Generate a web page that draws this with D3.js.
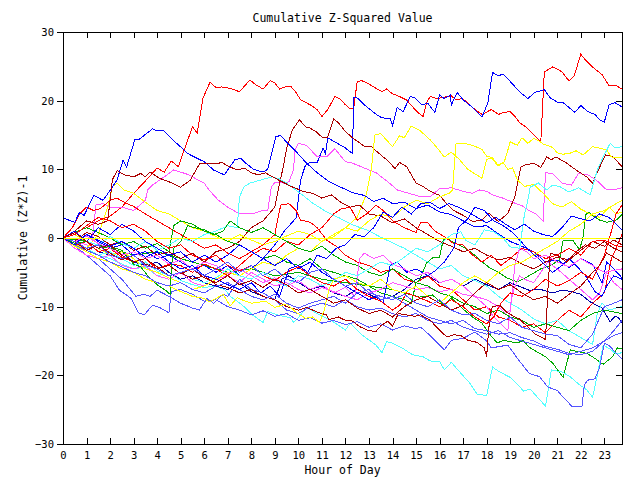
<!DOCTYPE html>
<html>
<head>
<meta charset="utf-8">
<script src="https://cdn.jsdelivr.net/npm/d3@7"></script>
<style>
  body { margin: 0; background: #fff; }
  text { font-family: "DejaVu Sans Mono", monospace; }
</style>
</head>
<body>
<svg id="chart" width="640" height="480"></svg>
<script>
// each series: [hour, cumulative (Z*Z)-1]
const red1 = [[0,0],[0.5,0.8],[1,1.5],[1.5,2.5],[2,3.2],[2.5,4.5],[3,6.5],[3.5,8.3],[4,10.2],[4.3,9.6],[4.6,11.2],[4.9,10.4],[5.2,13.3],[5.5,16.2],[5.7,15.3],[5.95,20.4],[6.25,22.7],[6.5,21.9],[6.75,22],[7.1,21.8],[7.5,21.3],[7.94,23],[8.2,22.3],[8.5,21.7],[8.8,22.9],[9.0,22.6],[9.2,21.7],[9.5,22.1],[9.7,22.0],[9.9,21.2],[10.1,20.1],[10.5,19.4],[10.8,18.7],[11.0,17.7],[11.25,18.7],[11.55,20.6],[11.75,20.3],[12.0,19.4],[12.2,18.8],[12.35,18.9],[12.5,22.8],[12.7,22.9],[12.9,22.6],[13.2,22.0],[13.55,21.3],[13.75,21.7],[14.0,21.0],[14.3,20.6],[14.6,20.1],[14.8,19.3],[15.1,18.2],[15.3,17.7],[15.45,19.7],[15.6,20.6],[15.9,20.3],[16.2,20.5],[16.5,20.7],[16.7,20.1],[16.95,20.3],[17.15,19.9],[17.4,19.0],[17.8,18.0],[18.2,18.7],[18.5,18.0],[18.75,18.3],[19.0,18.4],[19.2,17.7],[19.4,16.8],[19.7,16.1],[20.0,15.0],[20.3,14.0],[20.45,24.2],[20.8,24.9],[21.0,24.6],[21.2,24.2],[21.4,23.3],[21.5,22.9],[21.7,23.5],[21.8,24.5],[22.0,26.8],[22.1,26.3],[22.5,24.9],[22.9,23.8],[23.2,22.2],[23.5,22.2],[23.75,21.7]];
const blue1 = [[0,0],[0.5,-0.8],[1,0.5],[1.5,-0.5],[2,-1.5],[2.5,-1],[3,-2.5],[3.5,-2],[4,-3],[4.5,-2.5],[5,-3.5],[5.5,-4.5],[6,-4],[6.5,-5],[7,-4],[7.5,-5.5],[8,-4.5],[8.5,-3],[9,-1],[9.4,1],[9.9,2.9],[10.1,8.5],[10.3,10.6],[10.5,11],[10.8,11],[11.05,13.1],[11.15,12.3],[11.25,14.6],[11.65,13.8],[12,13.1],[12.3,12.3],[12.35,20.5],[12.5,20.4],[12.9,19.1],[13.35,17.9],[13.55,17.5],[13.9,17.4],[14.0,16.4],[14.2,19.0],[14.45,18.4],[14.75,20.6],[14.95,20.4],[15.25,19.4],[15.5,19.6],[15.8,18.3],[16.0,20.8],[16.2,20.3],[16.45,20.8],[16.5,19.4],[16.75,21.2],[17.0,20.1],[17.3,19.3],[17.5,18.7],[17.8,17.6],[18.05,19.7],[18.25,24.1],[18.5,23.6],[18.7,23.9],[19.0,22.8],[19.4,21.3],[19.75,20.3],[20.05,21.2],[20.45,21.6],[20.7,20.4],[21.0,19.8],[21.25,19.7],[21.75,18.3],[22.0,19.3],[22.3,18.4],[22.6,18.0],[22.8,17.2],[23.0,16.9],[23.2,19.4],[23.45,19.7],[23.75,19.1]];
const blue2 = [[0,2.9],[0.5,2.3],[0.7,3.7],[0.9,3.3],[1.3,6.2],[1.7,5.5],[2.1,7.4],[2.3,8.5],[2.55,11.3],[2.7,10.3],[3.05,14.3],[3.25,14.4],[3.8,15.9],[4.0,15.6],[4.25,15.7],[4.6,14.5],[5.05,13.1],[5.3,12.3],[5.7,11.6],[6.0,11.1],[6.4,9.9],[6.85,9.2],[7.0,9.9],[7.3,11.4],[7.55,11.6],[7.8,10.8],[8.1,10.0],[8.5,9.6],[8.7,10.0],[9.05,14.8],[9.25,14.9],[9.6,13.6],[9.95,12.4],[10.35,10.9],[10.8,9.5],[11.3,8.2],[11.8,7.4],[12.3,6.6],[12.8,6.2],[13.2,5.3],[13.6,5.8],[14,5],[14.5,5.2],[15,4.3],[15.5,4.8],[16,3.8],[16.5,3.4],[17,2.5],[17.5,1.6],[18,1.8],[18.5,0.6],[19,-0.5],[19.5,-1.2],[20,-2],[20.5,-3.5],[21,-3.2],[21.5,-4.3],[22,-3],[22.5,-3.8],[22.9,-6.6],[23.1,-3.5],[23.4,-4.5],[23.75,-5.8]];
const blue3 = [[0,0],[0.5,1],[1,-0.5],[1.5,1.5],[2,0.5],[2.5,2],[3,1],[3.5,-0.5],[4,-1.5],[4.5,-2.5],[5,-2],[5.5,-3.5],[6,-2.5],[6.5,-3.5],[7,-2.5],[7.5,-1],[8,-2],[8.5,-3],[9,-4],[9.5,-3],[10,-4.5],[10.5,-3.5],[11,-5],[11.5,-6],[12,-7],[12.5,-8],[13,-9],[13.3,-8.5],[13.6,-9.5],[13.9,-4],[14.2,-3.5],[14.6,-5],[15,-4.5],[15.5,-5.5],[15.8,-4.8],[16.2,-3.5],[16.6,-1.5],[16.8,1.5],[17.2,2.8],[17.5,4.5],[17.9,4],[18.3,2.5],[18.7,1.8],[19.1,0.8],[19.4,-0.3],[19.8,-1.8],[20.2,-3],[20.5,-4],[20.8,-5],[21.2,-4],[21.5,-3],[21.8,-4],[22.2,-5.5],[22.6,-7.8],[22.9,-8.5],[23.1,-7],[23.4,-5.5],[23.75,-6]];
const blue4 = [[0,0],[0.5,-1],[1,0.5],[1.5,-0.3],[2,-1.2],[2.5,-0.5],[3,-1.5],[3.5,-2.8],[4,-2],[4.5,-3.5],[5,-4.5],[5.5,-4],[6,-5.5],[6.5,-6],[7,-6.8],[7.5,-7.5],[8,-6.5],[8.4,-8],[8.8,-7],[9.2,-8.5],[9.6,-4.5],[10,-4],[10.4,-5],[10.8,-2.5],[11.2,-3],[11.6,-1.5],[12,-1],[12.4,0.5],[12.8,0.2],[13.2,1.5],[13.6,3.8],[14,3],[14.4,4.5],[14.8,3.5],[15.2,5],[15.6,5.2],[16,4.3],[16.4,5],[16.8,4.5],[17.2,3.8],[17.6,3],[18,2.2],[18.4,3],[18.8,2],[19.2,1.2],[19.6,2],[20,1],[20.4,0.5],[20.8,0.2],[21.2,1.5],[21.6,3.2],[22,2.8],[22.4,2.5],[22.8,3.5],[23.2,3],[23.75,1.2]];
const navy1 = [[0,0],[0.5,-1],[1,-0.5],[1.5,-2],[2,-2.5],[2.5,-2],[3,-3.5],[3.5,-4],[4,-3.5],[4.5,-5],[5,-6],[5.5,-5.5],[6,-6.5],[6.5,-7],[7,-7.5],[7.5,-6.5],[8,-7.8],[8.5,-8.5],[9,-9],[9.3,-6],[9.6,-5.5],[10,-6.5],[10.5,-7.5],[11,-7],[11.5,-8],[12,-8.5],[12.5,-7.5],[13,-8.2],[13.5,-9],[14,-8.5],[14.5,-7.5],[15,-6],[15.5,-5.5],[16,-6.5],[16.5,-6],[17,-7],[17.5,-6],[18,-6.8],[18.5,-7.5],[19,-6.5],[19.5,-7.2],[19.8,-7.6],[20.3,-7.5],[20.8,-8],[21.2,-7.6],[21.6,-7.8],[22,-8.2],[22.4,-9.3],[22.9,-10.2],[23.25,-12.2],[23.45,-11.4],[23.6,-11.6],[23.75,-12.4]];
const darkred1 = [[0,0],[0.5,-0.5],[1,0.8],[1.5,0.2],[2,-1],[2.5,-0.5],[3,-1.8],[3.5,-1.2],[4,-2.5],[4.5,-2],[5,-3],[5.5,-2.2],[6,-3.5],[6.5,-2],[7,-1.5],[7.5,-0.5],[8,1.5],[8.5,2.5],[9,4.5],[9.2,8],[9.35,10.2],[9.5,13],[9.75,15.8],[10.05,17.2],[10.3,16.2],[10.5,16],[10.75,15.5],[11,14.7],[11.25,14.7],[11.5,17.3],[11.7,16.8],[12,15.5],[12.3,14.6],[12.7,13.6],[12.85,13.3],[13.1,13.3],[13.4,12.4],[13.85,11.1],[14.1,10.1],[14.3,11.0],[14.6,10.4],[15,8],[15.3,7.5],[15.6,6.8],[16,6.2],[16.3,5],[16.6,4],[17,3.3],[17.4,2.4],[17.8,2.6],[18.1,3.6],[18.5,2.4],[18.9,3.6],[19.2,6.0],[19.45,10.3],[19.6,10.6],[20.0,10.9],[20.3,10.3],[20.55,11.8],[20.75,11.4],[20.95,11.8],[21.4,10.9],[21.8,9.9],[22.25,8.9],[22.5,8.0],[22.8,10.3],[23.05,12.1],[23.35,11.9],[23.75,10.4]];
const darkred2 = [[0,0],[0.5,1],[1,2.5],[1.5,2],[1.9,2.5],[2.1,8.5],[2.3,9.8],[2.6,9.2],[3.0,8.9],[3.3,9.4],[3.5,8.9],[3.7,9.6],[4.1,8.7],[4.5,8.2],[5.0,7.4],[5.4,8.4],[5.8,10.8],[6.2,10.9],[6.5,10.8],[6.75,11],[7.0,10.5],[7.4,9.9],[7.7,10.2],[8,9.5],[8.3,9.2],[8.6,9.5],[8.9,8.9],[9.3,8.2],[9.7,7.5],[10.2,6.8],[10.6,6.5],[11,5.8],[11.4,6.3],[11.8,5.2],[12.2,4.5],[12.6,4.8],[13,3.5],[13.5,3.2],[14,2.2],[14.5,2.8],[15,1.5],[15.5,0.5],[16,-0.5],[16.5,-1.2],[17,-2],[17.5,-1.5],[18,-2.5],[18.5,-3.2],[19,-2.8],[19.5,-3.8],[20,-4.5],[20.5,-3.5],[21,-2.8],[21.5,-3.2],[22,-1.8],[22.5,-0.5],[23,-1.2],[23.4,-0.3],[23.75,-1]];
const darkred3 = [[0,0],[0.5,0.8],[1,-0.5],[1.5,-1.5],[2,-1],[2.5,-2.5],[3,-3.5],[3.5,-3],[4,-4.2],[4.5,-5.5],[5,-5],[5.5,-6],[6,-5.5],[6.5,-6.8],[7,-7.2],[7.5,-8],[8,-7.5],[8.5,-8.5],[9,-9],[9.5,-10],[10,-10.5],[10.35,-10.1],[10.8,-10.8],[11.2,-11.2],[11.3,-11.9],[11.7,-11.5],[12,-12],[12.3,-12.1],[12.6,-12.9],[13,-13.5],[13.3,-13.6],[13.5,-12.8],[13.8,-12.1],[14.0,-12.8],[14.25,-11.0],[14.6,-11.2],[14.95,-11.4],[15.2,-11.2],[15.6,-12.0],[16,-13.4],[16.3,-14.4],[16.6,-14.1],[16.9,-14.2],[17.2,-14.9],[17.6,-15.2],[17.9,-16.0],[18.0,-17.3],[18.05,-14.8],[18.15,-11.0],[18.25,-10.0],[18.55,-9.8],[18.85,-10.8],[19.2,-11.5],[19.4,-11.8],[19.7,-12.8],[20.05,-14.0],[20.35,-14.5],[20.5,-14.8],[20.6,-7.6],[20.7,-2.2],[21,-2.5],[21.4,-3.5],[21.8,-2],[22.2,-1],[22.6,-1.5],[23,-0.5],[23.4,-1.5],[23.75,-2]];
const darkred4 = [[0,0],[0.5,-0.5],[1,-1.8],[1.5,-1],[2,-2.2],[2.5,-3.2],[3,-2.5],[3.5,-3.8],[4,-4.5],[4.5,-4],[5,-5.2],[5.5,-4.5],[6,-5.8],[6.5,-6.5],[7,-5.5],[7.5,-6.8],[8,-6.2],[8.5,-7.2],[9,-6],[9.5,-6.8],[10,-8],[10.5,-7.5],[11,-8.5],[11.5,-9.5],[12,-9],[12.5,-10.2],[13,-11],[13.5,-10.5],[14,-11.5],[14.5,-10],[15,-9],[15.5,-8.5],[16,-9.5],[16.5,-10.5],[17,-9.8],[17.5,-8],[18,-6.5],[18.5,-7.5],[19,-6.8],[19.5,-8],[20,-9],[20.5,-8.5],[21,-9.5],[21.5,-8.2],[22,-7],[22.5,-5],[22.8,-4],[23.1,-2.2],[23.4,-2.8],[23.75,-3.5]];
const red2 = [[0,0],[0.4,1.5],[0.7,3.5],[1,4.5],[1.3,4],[1.6,4.3],[2,5.5],[2.3,5.8],[2.6,5.2],[3,4.6],[3.5,3.5],[4,2.5],[4.5,1.5],[5,0.5],[5.5,-0.5],[6,-1.5],[6.5,-1],[7,-2.2],[7.5,-3],[8,-2],[8.5,-1],[9,0.5],[9.1,2.3],[9.25,4.8],[9.6,5.0],[9.9,4.0],[10.1,2.6],[10.5,2.3],[10.8,1.5],[11.2,-0.3],[11.6,-1.2],[12,-2.5],[12.5,-3.5],[13,-4],[13.5,-5],[14,-4.5],[14.5,-6],[15,-6.5],[15.5,-5.5],[16,-7],[16.5,-7.5],[17,-9],[17.5,-10.5],[18,-10],[18.5,-11.5],[19,-12],[19.5,-13],[20,-12.5],[20.5,-13.8],[21,-12],[21.5,-10.5],[22,-11.5],[22.5,-9.5],[23,-8],[23.3,-3],[23.5,-1.5],[23.75,0.5]];
const red3 = [[0,0],[0.5,-1],[1,-0.5],[1.5,-2],[2,-1.5],[2.5,-2.8],[3,-3.5],[3.5,-3],[4,-4.5],[4.5,-3.8],[5,-4],[5.5,-5],[6,-3.8],[6.5,-4.5],[7,-5.5],[7.5,-4],[8,-2.5],[8.5,-1.5],[9,-2],[9.5,-0.5],[10,-1],[10.5,0.5],[11,1.5],[11.5,3.5],[11.8,4.2],[12.2,4.5],[12.5,2.6],[12.9,3.5],[13.3,4.8],[13.6,4],[14,2.5],[14.5,1.5],[15,0.8],[15.2,2.3],[15.5,2.2],[15.8,1],[16.2,0.2],[16.6,-0.8],[17,-1],[17.4,-2.5],[17.8,-3.5],[18.2,-2.5],[18.6,-4],[19,-3],[19.5,-1.5],[20,-2],[20.5,-3],[21,-2.5],[21.5,-1.5],[22,-2.5],[22.5,-0.5],[23,-0.3],[23.4,-1],[23.75,-1.3]];
const red4 = [[0,0],[0.5,0.5],[1,1.8],[1.5,3],[2,2.5],[2.5,1.5],[3,2],[3.5,1],[4,-0.5],[4.5,-1.5],[5,-1],[5.5,-2.5],[6,-3.2],[6.5,-2.5],[7,-4],[7.5,-4.8],[8,-4],[8.5,-5.5],[9,-6.2],[9.5,-5],[10,-4.2],[10.5,-5.5],[11,-6.5],[11.5,-7],[12,-6],[12.5,-7.5],[13,-8.5],[13.5,-9.2],[14,-10.5],[14.3,-9.8],[14.6,-8],[15,-8.5],[15.5,-9.2],[16,-10],[16.5,-9],[17,-10],[17.5,-11.5],[18,-12.5],[18.3,-11.5],[18.6,-9.5],[19,-8],[19.5,-8.5],[20,-7.5],[20.5,-6],[21,-7],[21.5,-6.2],[22,-5],[22.5,-6],[23,-2.5],[23.3,1],[23.5,3.5],[23.75,4.8]];
const magenta1 = [[0,0],[0.5,-0.5],[1,-1],[1.2,-1.6],[1.3,1.6],[1.4,4.8],[1.7,5],[2,4.5],[2.5,4.5],[3,4],[3.5,5.5],[3.6,7],[3.8,7.7],[4.3,8.9],[4.7,9.9],[5,9.6],[5.35,9.2],[5.7,8.5],[6.0,8.0],[6.2,7.0],[6.6,5.5],[7,4.5],[7.5,3.5],[8,3.5],[8.5,4],[8.7,4.0],[8.85,7.4],[9.0,8.1],[9.4,8.0],[9.6,8.2],[9.8,10.0],[9.85,12.8],[10.0,13.8],[10.35,13.5],[10.8,11.8],[11.2,11.8],[11.55,13.0],[12.0,11.1],[12.3,10.9],[12.8,10.2],[13.3,9.5],[13.8,8.2],[14.2,7.0],[14.6,6.6],[15.2,6.0],[15.6,6.0],[16,7.2],[16.5,7.3],[17,6.8],[17.4,6.5],[17.7,7.0],[18.0,6.8],[18.3,6.2],[18.7,5.8],[19.1,5.2],[19.5,4.7],[19.8,4.0],[20.1,3.5],[20.4,2.5],[20.5,9.5],[20.8,9.4],[21.2,8.0],[21.6,7.7],[21.9,9.4],[22.3,9.2],[22.7,8.3],[23.1,7.0],[23.4,7.0],[23.75,7.3]];
const magenta2 = [[0,0],[0.5,-1.5],[1,-2.5],[1.5,-3],[2,-2.5],[2.5,-4],[3,-4.5],[3.5,-4],[4,-5.5],[4.5,-6],[5,-5],[5.5,-6.5],[6,-7],[6.5,-6],[7,-5.5],[7.5,-6.5],[8,-5],[8.5,-6],[9,-7],[9.5,-6.5],[10,-7.5],[10.5,-8],[11,-7.2],[11.5,-7.8],[12,-8.5],[12.5,-9],[13,-8],[13.5,-7.5],[14,-6.5],[14.5,-7],[15,-7.5],[15.5,-7.2],[16,-7.8],[16.5,-7.5],[17,-8.2],[17.5,-8.5],[18,-10],[18.3,-11.5],[18.6,-12.5],[18.9,-13.5],[19.05,-9],[19.15,-7.5],[19.4,-5.5],[19.6,-6],[20,-6.5],[20.3,-5],[20.6,-3.5],[21,-4.5],[21.5,-6],[22,-7.5],[22.5,-9],[22.8,-8],[23.1,-5],[23.4,-6.5],[23.75,-7.5]];
const magenta3 = [[0,0],[0.5,-0.5],[1,0.3],[1.5,-0.8],[2,-1.5],[2.5,-2.5],[3,-2],[3.5,-3],[4,-2.5],[4.5,-3.8],[5,-3.2],[5.5,-4.5],[6,-3.5],[6.5,-4],[7,-5.2],[7.5,-4.5],[8,-5.5],[8.5,-6.5],[9,-5.8],[9.5,-7],[10,-6.2],[10.5,-7.5],[11,-6.8],[11.5,-8],[12,-7.2],[12.4,-8.5],[12.6,-3],[12.8,-2.2],[13.2,-3],[13.6,-2.5],[14,-3.8],[14.5,-4.5],[15,-5.5],[15.5,-5],[16,-6.5],[16.5,-6],[17,-7],[17.5,-8.5],[18,-9],[18.5,-10],[18.8,-11],[19.0,-10.5],[19.2,-4],[19.4,-1.5],[19.7,-2],[20,-3],[20.5,-2.5],[21,-3.5],[21.5,-4.2],[22,-3],[22.5,-4],[23,-5],[23.75,-4.5]];
const yellow1 = [[0,0],[0.5,-1],[1,-1.5],[1.5,0.5],[1.9,4.5],[2.1,7.5],[2.3,8],[2.6,7],[3,6.5],[3.5,5.2],[4,4],[4.5,3.5],[5,2.5],[5.5,1.5],[6,1],[6.5,0.2],[7,-0.5],[7.5,0.5],[8,-0.3],[8.5,-1],[9,-0.5],[9.5,0.3],[10,1],[10.5,0.5],[11,-0.5],[11.5,0.2],[12,1.5],[12.5,3],[12.9,6.5],[13.1,10],[13.25,15],[13.5,15.2],[14,13.3],[14.3,14.9],[14.5,14.6],[14.8,16.3],[15.15,15.7],[15.6,14.3],[15.9,13.1],[16.2,11.8],[16.5,12.5],[16.85,11.4],[17.2,10],[17.8,8.7],[18.0,11.4],[18.2,11.7],[18.45,10.6],[18.75,11.1],[18.9,12.8],[19.0,14],[19.3,13.5],[19.5,14.6],[19.75,13.8],[20,14.5],[20.2,14.2],[20.4,13.7],[20.8,13.2],[21.0,12.4],[21.25,12.2],[21.6,12.4],[21.8,12.7],[22.1,12.1],[22.5,13.3],[22.9,13.0],[23.1,12.8],[23.3,11.8],[23.75,11.7]];
const yellow2 = [[0,0],[0.5,0.5],[1,-0.5],[1.5,-1.5],[2,-2.5],[2.5,-2],[3,-3],[3.5,-4.5],[4,-5],[4.5,-5.8],[5,-6.5],[5.5,-7.5],[6,-7],[6.5,-6],[7,-5],[7.5,-5.5],[8,-4.5],[8.5,-3.5],[9,-4],[9.5,-2.5],[10,-1.5],[10.5,-2],[11,-0.5],[11.5,0.5],[12,1.5],[12.5,1],[13,2.5],[13.5,3.5],[14,3],[14.5,4.5],[15,5.5],[15.5,5],[16,6],[16.4,6.5],[16.55,7],[16.7,13.8],[17,13.8],[17.4,13.5],[17.8,12.9],[18.0,11.9],[18.25,11.7],[18.5,10.5],[18.7,11],[18.9,10],[19.1,10.2],[19.3,8.5],[19.6,7.5],[20,7.8],[20.4,6.5],[20.8,5],[21.2,4.5],[21.6,5.3],[22,4.2],[22.4,3.5],[22.8,3],[23.2,4.5],[23.5,3.5],[23.75,3.8]];
const yellow3 = [[0,0],[0.5,-1.2],[1,-2],[1.5,-3],[2,-3.5],[2.5,-4.5],[3,-5],[3.5,-6],[4,-6.5],[4.5,-7],[5,-7.8],[5.5,-8.5],[6,-8.8],[6.2,-9.3],[6.5,-8.8],[6.8,-8.2],[7.1,-9.9],[7.4,-8.7],[7.6,-9],[8.0,-9.5],[8.6,-9.2],[9.0,-10.1],[9.5,-9.6],[9.9,-10.8],[10.3,-11.7],[10.6,-11.5],[10.9,-12.3],[11.1,-10.5],[11.3,-7.5],[11.5,-6],[12,-5.5],[12.5,-6.5],[13,-7],[13.5,-6],[14,-7.5],[14.5,-8],[15,-7],[15.5,-8.5],[16,-9.5],[16.5,-8],[17,-6.5],[17.5,-5.5],[18,-6.5],[18.5,-5],[19,-4],[19.5,-3.5],[20,-2.5],[20.5,-1.5],[21,-0.5],[21.5,1],[22,2],[22.5,3.5],[23,4],[23.75,5.5]];
const yellowFlat = [[0,0],[23.75,0]];
const cyan1 = [[0,0],[0.5,-0.8],[1,-1.5],[1.5,-2.5],[2,-3],[2.5,-3.8],[3,-4.5],[3.5,-4.2],[4,-5.5],[4.5,-5],[5,-6.2],[5.5,-6.8],[6,-7.2],[6.5,-7],[6.9,-7.6],[7.1,-8.5],[7.6,-9.7],[8.05,-11.2],[8.5,-12.3],[8.7,-10.7],[9.1,-11.2],[9.65,-11.6],[9.8,-12.3],[10.1,-11.2],[10.35,-10.1],[10.9,-11.2],[11.35,-11.9],[12.0,-13.4],[12.2,-12.4],[12.4,-13.1],[12.7,-14.1],[13.3,-15.6],[13.55,-16.7],[13.75,-15.1],[14.0,-15.3],[14.4,-16.0],[14.85,-17.0],[15.3,-17.3],[15.6,-17.9],[16.0,-18.0],[16.2,-19.2],[16.5,-18.1],[16.8,-19.3],[17.3,-21.2],[17.6,-22.8],[18.0,-22.9],[18.25,-18.8],[18.55,-19.5],[19.0,-20.3],[19.4,-21.6],[19.55,-22.3],[19.85,-22.0],[20.5,-24.5],[20.55,-23.5],[20.75,-19.2],[21.2,-19.5],[21.55,-20.2],[21.95,-21.4],[22.25,-22.1],[22.5,-23.2],[22.7,-20],[22.95,-15.6],[23.25,-16.2],[23.5,-16.9],[23.75,-16.7]];
const cyan2 = [[0,0],[0.5,0.5],[1,-0.5],[1.5,-1],[2,0.2],[2.5,-0.8],[3,-1.5],[3.5,-0.5],[4,-1.8],[4.5,-1],[5,0],[5.5,-0.5],[6,0.5],[6.5,1],[7,1.8],[7.4,1.5],[7.5,6],[7.7,7.5],[7.95,8.0],[8.45,8.5],[8.9,8.9],[9.2,8.6],[9.5,8.0],[10.05,6.6],[10.6,5.1],[11.2,3.8],[11.75,2.9],[12.3,1.9],[12.9,1.2],[13.45,0.2],[13.75,-0.3],[14.5,-1.5],[15,-2.5],[15.5,-3.5],[16,-4.5],[16.5,-4],[17,-5.5],[17.5,-6.2],[18,-7],[18.5,-8.5],[19,-9.5],[19.5,-10.5],[20,-11.8],[20.5,-12.5],[21,-12],[21.5,-13.5],[22,-14.5],[22.5,-15.5],[22.7,-11],[22.9,-9.5],[23.2,-10.5],[23.5,-10.2],[23.75,-10]];
const cyan3 = [[0,0],[0.5,-1],[1,-1.8],[1.5,-2.5],[2,-2],[2.5,-3],[3,-4],[3.5,-3.5],[4,-4.8],[4.5,-5.5],[5,-5],[5.5,-6],[6,-6.5],[6.5,-5.8],[7,-4.5],[7.5,-5.5],[8,-6],[8.5,-5],[9,-6.2],[9.5,-7],[10,-5.5],[10.5,-6],[11,-7],[11.5,-6.2],[12,-5],[12.5,-5.5],[13,-4.5],[13.5,-3.5],[14,-4],[14.5,-2.8],[15,-1.5],[15.5,-2],[16,-1],[16.5,0.5],[16.9,0.9],[17.1,-0.3],[17.5,-1],[17.9,1.2],[18.3,0.9],[18.7,0],[19.0,-1.3],[19.4,-1.5],[19.6,3.3],[19.75,5.5],[19.85,7.4],[20.2,8.0],[20.55,7.0],[20.8,7.7],[21.1,7.5],[21.5,6.7],[21.9,7.3],[22.4,6.3],[22.7,9.9],[22.95,11.8],[23.25,13.8],[23.45,13.1],[23.75,13.3]];
const lightblue1 = [[0,0],[0.5,-1.2],[1,-2.5],[1.5,-4],[2,-5.5],[2.4,-7.6],[2.9,-8.8],[3.2,-10.9],[3.45,-11.2],[3.8,-9.8],[4.1,-10.1],[4.5,-10.9],[4.6,-7.8],[5,-7.5],[5.5,-8.2],[6,-9.2],[6.5,-9],[7,-10],[7.5,-10.5],[8,-11.2],[8.5,-10.6],[9,-11.4],[9.5,-11],[10,-12],[10.5,-11.6],[11,-12.4],[11.5,-12],[12,-12.6],[12.5,-12.2],[13,-13],[13.5,-12.5],[14,-13.4],[14.5,-12.8],[15,-13.2],[15.2,-13],[15.6,-14.2],[16.2,-16.3],[16.5,-14.9],[17,-14.6],[17.5,-13.7],[18,-15],[18.2,-16],[18.9,-15.6],[19.3,-17.5],[19.8,-19.7],[20.25,-20.2],[20.6,-21.7],[21,-22.2],[21.25,-23.2],[21.45,-23.9],[21.65,-24.6],[22.05,-24.5],[22.15,-21.4],[22.3,-20.7],[22.6,-20.5],[22.8,-18.8],[23.0,-15.3],[23.25,-15.8],[23.5,-16.8],[23.75,-17.6]];
const lightblue2 = [[0,0],[0.5,-1],[1,-2],[1.5,-3],[2,-4.5],[2.5,-6],[3.1,-8.5],[3.45,-8.2],[3.7,-8.5],[4.0,-7.6],[4.5,-8.5],[5,-9.5],[5.5,-10.2],[5.8,-10.5],[6.1,-8.8],[6.4,-9.5],[6.8,-8.2],[7,-8.5],[7.5,-6],[8,-7.5],[8.5,-8],[9,-9],[9.5,-10.5],[10,-11],[10.5,-10],[11,-9.5],[11.5,-10],[12,-9],[12.5,-10],[13,-10.5],[13.5,-10.2],[14,-11],[14.5,-11.5],[15,-11],[15.5,-12],[16,-12.5],[16.5,-12],[17,-13],[17.5,-13.5],[18,-14],[18.5,-13.5],[19,-14.5],[19.5,-15],[20,-15.5],[20.5,-16],[21,-16.5],[21.5,-17],[22,-16.5],[22.5,-16],[23,-15],[23.4,-14.2],[23.75,-13.8]];
const lightblue3 = [[0,0],[0.5,-1],[1,-1.8],[1.5,-2.5],[2,-3.5],[2.5,-4.2],[3,-5],[3.5,-5.5],[4,-6.5],[4.5,-7],[5,-6.5],[5.5,-7.5],[6,-8],[6.5,-7],[7,-6.5],[7.5,-7.5],[8,-8.5],[8.5,-9],[9,-8.2],[9.5,-9.5],[10,-10.2],[10.5,-9.5],[11,-9],[11.5,-8.5],[12,-9.5],[12.5,-8],[13,-7.5],[13.5,-9],[14,-8.5],[14.5,-9.5],[15,-10.5],[15.5,-11.5],[16,-12],[16.5,-12.5],[17,-12],[17.5,-13.2],[18,-13.5],[18.5,-14],[19,-13.8],[19.5,-14.5],[20,-15],[20.5,-15.8],[21,-16.2],[21.5,-16.8],[22,-17],[22.5,-16.5],[23,-15],[23.4,-13.5],[23.75,-12]];
const lightblue4 = [[0,0],[0.5,-0.5],[1,-1.5],[1.5,-1],[2,-2.5],[2.5,-3],[3,-2.5],[3.5,-4],[4,-4.5],[4.5,-5.5],[5,-5],[5.5,-4.5],[6,-5.5],[6.5,-4.5],[7,-3.5],[7.5,-5],[8,-4],[8.5,-5.5],[9,-4.5],[9.5,-6],[10,-6.5],[10.5,-5],[11,-4.5],[11.5,-6],[12,-7],[12.5,-6.5],[13,-8],[13.5,-8.5],[14,-9],[14.5,-8.2],[15,-9.5],[15.5,-10],[16,-9],[16.5,-10.5],[17,-11.2],[17.5,-11],[18,-12],[18.5,-12.5],[19,-11.5],[19.5,-13],[20,-13.5],[20.5,-14],[21,-14.2],[21.5,-15.5],[22,-16],[22.5,-14],[23,-10],[23.4,-9.5],[23.75,-9]];
const green1 = [[0,0],[1,-0.5],[2,-1.5],[3,-2.5],[4,-2],[5,-3],[6,-4],[7,-5],[8,-4.5],[9,-5.5],[10,-5],[11,-6],[12,-6.5],[13,-7],[14,-7.5],[14.5,-8],[15.15,-8.6],[15.7,-8.3],[16.2,-9.8],[16.5,-8.7],[16.95,-10.2],[17.4,-11.5],[17.8,-12.4],[18.1,-13.9],[18.45,-15.3],[18.7,-14.9],[19.3,-15.3],[19.55,-14.9],[19.8,-15.9],[20.5,-17.3],[20.8,-18.2],[21.25,-20.3],[21.55,-16.3],[22.25,-16.8],[22.5,-17.3],[22.95,-18.4],[23.35,-17.3],[23.55,-16.0],[23.75,-16.1]];
const green2 = [[0,0],[0.5,0.8],[1,1.5],[1.5,0.8],[2,0],[2.5,-1],[3,-0.5],[3.5,-1.5],[4,-0.8],[4.5,-2],[4.7,1.8],[5,2.5],[5.5,2],[6,1],[6.5,0.5],[7,-0.5],[7.5,-1],[8,-2],[8.5,-3],[9,-2.5],[9.5,-3.5],[10,-4],[10.5,-3],[11,-4.5],[11.5,-5],[12,-5.5],[12.5,-6],[13,-7],[13.5,-8],[14,-8.5],[14.5,-9],[14.8,-9.5],[15.0,-6.5],[15.15,-6.1],[15.45,-3.6],[15.7,-2.9],[16.0,-2.8],[16.15,-0.3],[16.3,0],[16.55,-0.6],[17,-1.3],[17.3,-2.0],[17.6,-2.8],[17.85,-3.6],[18.15,-4.4],[18.55,-5.1],[18.85,-5.8],[19.3,-6.4],[19.8,-5.5],[20.3,-4.5],[20.7,-4],[21.1,-3.2],[21.25,-0.3],[21.65,-0.3],[21.95,-1.7],[22.1,0.2],[22.2,3.4],[22.35,3.8],[22.5,3.3],[22.8,2.6],[23.1,2.3],[23.5,2.6],[23.75,3.4]];
const green3 = [[0,0],[0.5,-0.8],[1,-0.5],[1.5,-1.5],[2,-1.2],[2.5,-1.8],[3,-3.8],[3.3,-4.2],[3.6,-5.5],[4,-6.8],[4.35,-7.6],[4.55,-8.2],[4.6,-4.5],[4.7,-1.5],[5,-0.5],[5.3,1.8],[5.6,1.5],[6,1.2],[6.4,0.5],[6.8,1],[7.1,2.5],[7.5,1.5],[8,0.8],[8.5,1.5],[9,0.5],[9.5,-0.5],[10,-1.5],[10.5,-2],[11,-1.2],[11.5,-2.5],[12,-3.5],[12.5,-4],[13,-5],[13.5,-5.5],[14,-4.5],[14.5,-5.5],[15,-6.5],[15.5,-7],[16,-8],[16.5,-8.5],[17,-9.5],[17.5,-10],[18,-11],[18.5,-10.5],[19,-11.5],[19.5,-12],[20,-13],[20.5,-12.5],[21,-13],[21.5,-13.5],[22,-12],[22.5,-11],[23,-10.5],[23.75,-11]];

const series = [
  { data: red1, color: "#ff0000" },
  { data: green1, color: "#00aa00" },
  { data: blue1, color: "#0000ff" },
  { data: magenta1, color: "#ff55ff" },
  { data: cyan1, color: "#55ffff" },
  { data: darkred1, color: "#aa0000" },
  { data: yellow1, color: "#ffff00" },
  { data: lightblue1, color: "#5555ff" },
  { data: navy1, color: "#0000aa" },
  { data: red2, color: "#ff0000" },
  { data: green2, color: "#00aa00" },
  { data: blue2, color: "#0000ff" },
  { data: magenta2, color: "#ff55ff" },
  { data: cyan2, color: "#55ffff" },
  { data: darkred2, color: "#aa0000" },
  { data: yellow2, color: "#ffff00" },
  { data: lightblue2, color: "#5555ff" },
  { data: red3, color: "#ff0000" },
  { data: green3, color: "#00aa00" },
  { data: blue3, color: "#0000ff" },
  { data: magenta3, color: "#ff55ff" },
  { data: cyan3, color: "#55ffff" },
  { data: darkred3, color: "#aa0000" },
  { data: yellow3, color: "#ffff00" },
  { data: lightblue3, color: "#5555ff" },
  { data: red4, color: "#ff0000" },
  { data: blue4, color: "#0000ff" },
  { data: darkred4, color: "#aa0000" },
  { data: lightblue4, color: "#5555ff" },
  { data: yellowFlat, color: "#ffff00" }
];

const hourTicks = d3.range(0, 24);
const valueTicks = [-30, -20, -10, 0, 10, 20, 30];

const margin = { top: 32, right: 18, bottom: 36, left: 63 };
const width = 640, height = 480;

const svg = d3.select("#chart");

const x = d3.scaleLinear().domain([0, 23.75]).range([margin.left, width - margin.right]);
const y = d3.scaleLinear().domain([-30, 30]).range([height - margin.bottom, margin.top]);

// lines
const line = d3.line().x(d => x(d[0])).y(d => y(d[1]));
svg.append("g")
  .selectAll("path")
  .data(series)
  .enter()
  .append("path")
  .attr("d", d => line(d.data))
  .attr("fill", "none")
  .attr("stroke", d => d.color)
  .attr("stroke-width", 1)
  .attr("shape-rendering", "crispEdges");

// frame
svg.append("rect")
  .attr("x", x(0) + 0.5)
  .attr("y", y(30) + 0.5)
  .attr("width", x(23.75) - x(0))
  .attr("height", y(-30) - y(30))
  .attr("fill", "none")
  .attr("stroke", "#000")
  .attr("shape-rendering", "crispEdges");

// left axis, ticks outward
svg.append("g")
  .attr("transform", `translate(${x(0)},0)`)
  .call(d3.axisLeft(y).tickValues(valueTicks).tickSize(6).tickPadding(3));
// right axis, ticks inward
svg.append("g")
  .attr("transform", `translate(${x(23.75)},0)`)
  .call(d3.axisLeft(y).tickValues(valueTicks).tickSize(6).tickFormat(""));
// bottom axis, ticks inward
svg.append("g")
  .attr("transform", `translate(0,${y(-30)})`)
  .call(d3.axisBottom(x).tickValues(hourTicks).tickSizeInner(-6).tickSizeOuter(0).tickPadding(8).tickFormat(d3.format("d")));
// top axis, ticks inward
svg.append("g")
  .attr("transform", `translate(0,${y(30)})`)
  .call(d3.axisBottom(x).tickValues(hourTicks).tickSize(6).tickFormat(""));

svg.selectAll(".domain").remove();
svg.selectAll(".tick line").attr("stroke", "#000").attr("shape-rendering", "crispEdges");
svg.selectAll(".tick text")
  .attr("fill", "#000")
  .style("font-family", "'DejaVu Sans Mono', monospace")
  .style("font-size", "10.5px");

// titles
svg.append("text")
  .attr("x", (x(0) + x(23.75)) / 2)
  .attr("y", 22)
  .attr("text-anchor", "middle")
  .style("font-size", "11.5px")
  .text("Cumulative Z-Squared Value");

svg.append("text")
  .attr("x", (x(0) + x(23.75)) / 2)
  .attr("y", 474)
  .attr("text-anchor", "middle")
  .style("font-size", "11.5px")
  .text("Hour of Day");

svg.append("text")
  .attr("transform", `translate(27,${(y(30) + y(-30)) / 2}) rotate(-90)`)
  .attr("text-anchor", "middle")
  .style("font-size", "11.5px")
  .text("Cumulative (Z*Z)-1");
</script>
</body>
</html>
